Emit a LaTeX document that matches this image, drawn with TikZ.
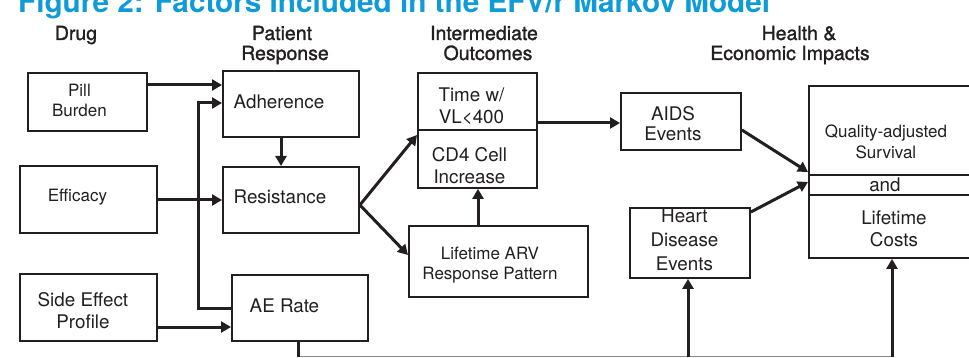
\documentclass[tikz,border=0pt]{standalone}
\usepackage{fontspec}
\setmainfont{TeX Gyre Heros}
\newfontfamily\hdrfont[FakeBold=1.3]{TeX Gyre Heros}
\usetikzlibrary{arrows.meta}
\definecolor{ink}{HTML}{231F20}
\definecolor{titleblue}{HTML}{0E9BD8}
\definecolor{botline}{HTML}{8A8A8A}
\begin{document}
\begin{tikzpicture}[x=1pt,y=-1pt,
  box/.style={draw=ink, line width=1.9pt, rectangle, inner sep=0pt, anchor=north west},
  txt/.style={align=center, text=ink, inner sep=0pt},
  big/.style={font=\fontsize{18.8}{20}\selectfont},
  bigw/.style={font=\fontsize{18.8}{22}\selectfont},
  bigh/.style={font=\fontsize{18.8}{24}\selectfont},
  small/.style={font=\fontsize{17}{20}\selectfont},
  smallw/.style={font=\fontsize{17}{21}\selectfont},
  hdr/.style={font=\hdrfont\fontsize{19.5}{20}\selectfont, text=ink, inner sep=0pt, anchor=base},
  arr/.style={draw=ink, line width=3pt, -{Triangle[length=10pt,width=11pt]}},
  ln/.style={draw=ink, line width=3pt},
  thinln/.style={draw=botline, line width=1.6pt}]
\useasboundingbox (0,0) rectangle (969,358);

% title (cut off at the top, as in the source)
\node[anchor=base west, inner sep=0pt, text=titleblue,
      font=\bfseries\fontsize{29.7}{30}\selectfont] (title) at (18,13)
      {Figure 2: Factors Included in the EFV/r Markov Model};

% column headers
\node[hdr] (hDrug) at (76,40) {Drug};
\node[hdr] (hPat1) at (282,40) {Patient};
\node[hdr] (hPat2) at (285,60) {Response};
\node[hdr] (hInt1) at (484,40) {Intermediate};
\node[hdr] (hInt2) at (488,60) {Outcomes};
\node[hdr] (hHea1) at (799,40) {Health \&};
\node[hdr] (hHea2) at (790,60) {Economic Impacts};

% boxes
\node[box, minimum width=119, minimum height=58,
      label={[txt, small, xshift=-8, yshift=2]center:{Pill\\Burden}}] (pill) at (27,72) {};
\node[box, minimum width=136, minimum height=66,
      label={[txt, big, xshift=-12, yshift=2.5]center:{Adherence}}] (adh) at (222,70) {};
\node[box, minimum width=137, minimum height=67,
      label={[txt, small, xshift=-11, yshift=2]center:{Efficacy}}] (eff) at (19,165) {};
\node[box, minimum width=136, minimum height=66,
      label={[txt, big, xshift=-11, yshift=3.5]center:{Resistance}}] (res) at (222,166) {};
\node[box, minimum width=137, minimum height=67,
      label={[txt, bigw, xshift=-5.5, yshift=-3]center:{Side Effect\\Profile}}] (sep) at (19,273) {};
\node[box, minimum width=136, minimum height=66,
      label={[txt, big, xshift=-15.5, yshift=2]center:{AE Rate}}] (ae) at (231,274) {};
\node[box, minimum width=119, minimum height=57,
      label={[txt, bigw, xshift=-6, yshift=-5]center:{Time w/\\VL<400}}] (tvlA) at (417,72) {};
\node[box, minimum width=119, minimum height=58,
      label={[txt, bigw, xshift=-8, yshift=-6.5]center:{CD4 Cell\\Increase}}] (cd4) at (417,129) {};
\node[box, minimum width=179, minimum height=71,
      label={[txt, small, xshift=-8.5, yshift=-3.5]center:{Lifetime ARV\\Response Pattern}}] (arv) at (408,225) {};
\node[box, minimum width=120, minimum height=57,
      label={[txt, big, xshift=-8, yshift=-2]center:{AIDS\\Events}}] (aids) at (620,92) {};
\node[box, minimum width=120, minimum height=70,
      label={[txt, bigh, xshift=-5.5, yshift=3]center:{Heart\\Disease\\Events}}] (heart) at (629,207) {};
\node[box, minimum width=164, minimum height=89,
      label={[txt, smallw, xshift=-5, yshift=-11.5]center:{Quality-adjusted\\Survival}}] (qasA) at (808,85) {};
\node[box, minimum width=164, minimum height=20,
      label={[txt, big, xshift=-6, yshift=0]center:{and}}] (qasB) at (808,174) {};
\node[box, minimum width=164, minimum height=63,
      label={[txt, bigw, xshift=3, yshift=-2.5]center:{Lifetime\\Costs}}] (qasC) at (808,194) {};

% helper coordinates (levels and columns)
\coordinate (yA) at (0,85);
\coordinate (yAd) at (0,103);
\coordinate (yE) at (0,200);
\coordinate (yS) at (0,327);
\coordinate (yAE) at (0,308);
\coordinate (yF) at (0,205);
\coordinate (yC) at (0,135);
\coordinate (yV) at (0,255);
\coordinate (yT) at (0,123);
\coordinate (yQ1) at (0,130);
\coordinate (yQ2) at (0,172);
\coordinate (yH) at (0,212);
\coordinate (yQ3) at (0,182);
\coordinate (bot) at (0,356.5);
\coordinate (xAR) at (281,0);
\coordinate (fbk) at (198,0);
\coordinate (xV) at (478,0);
\coordinate (xB) at (298,0);
\coordinate (xH) at (688,0);
\coordinate (xQ) at (892,0);

% connectors
\draw[arr] (pill.east |- yA) -- (adh.west |- yA);
\draw[arr] (adh.south -| xAR) -- (res.north -| xAR);
\draw[arr] (eff.east |- yE) -- (res.west |- yE);
\draw[arr] (sep.east |- yS) -- (ae.west |- yS);
\draw[arr] (ae.west |- yAE) -| (fbk |- yAd) -- (adh.west |- yAd);
\draw[arr] (res.east |- yF) -- (cd4.west |- yC);
\draw[arr] (res.east |- yF) -- (arv.west |- yV);
\draw[arr] (arv.north -| xV) -- (cd4.south -| xV);
\draw[arr] (tvlA.east |- yT) -- (aids.west |- yT);
\draw[arr] (aids.east |- yQ1) -- (qasA.west |- yQ2);
\draw[arr] (heart.east |- yH) -- (qasB.west |- yQ3);
\draw[thinln] (xB |- bot) -- (xQ |- bot);
\draw[ln] (ae.south -| xB) -- ([yshift=-0.8pt]xB |- bot);
\draw[arr] ([yshift=-0.8pt]xH |- bot) -- (heart.south -| xH);
\draw[arr] ([yshift=-0.8pt]xQ |- bot) -- (qasC.south -| xQ);
\end{tikzpicture}
\end{document}
